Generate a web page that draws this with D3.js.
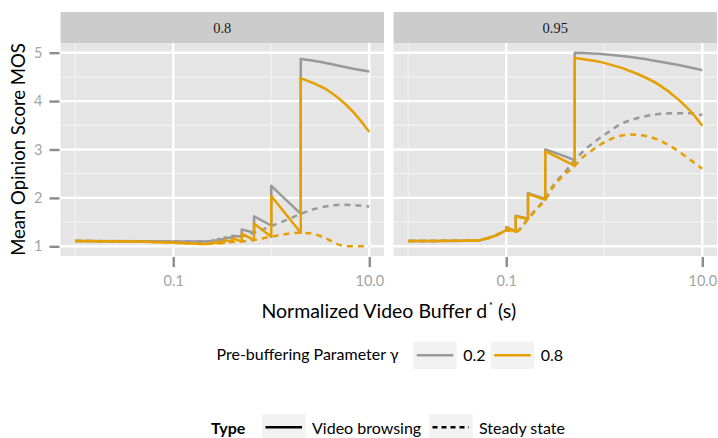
<!DOCTYPE html>
<html>
<head>
<meta charset="utf-8">
<script src="https://cdn.jsdelivr.net/npm/d3@7"></script>
<style>
  body { margin: 0; background: #ffffff; }
  text { font-family: Lato, "Noto Sans", sans-serif; white-space: pre; }
</style>
</head>
<body>
<svg id="chart" width="718" height="438"></svg>
<script>
// Facet labels, legend levels and axis breaks
const facets = ["0.8", "0.95"];
const gammas = ["0.2", "0.8"];
const types = ["Video browsing", "Steady state"];
const xTicks = [0.1, 10];
const xTickLabels = ["0.1", "10.0"];
const yTicks = [1, 2, 3, 4, 5];

// [d*, MOS] pairs; a repeated d* is a jump in the curve
const browse08_g02 = [[0.01,1.11],[0.05,1.105],[0.15,1.10],[0.25,1.10],[0.25,1.12],[0.286,1.12],[0.286,1.15],[0.333,1.14],[0.333,1.18],[0.4,1.17],[0.4,1.22],[0.5,1.20],[0.5,1.35],[0.667,1.28],[0.667,1.62],[1,1.43],[1,2.25],[2,1.67],[2,4.87],[3,4.82],[4.4,4.75],[6.5,4.68],[10,4.61]];
const browse08_g08 = [[0.01,1.11],[0.05,1.095],[0.12,1.07],[0.2,1.05],[0.25,1.055],[0.25,1.08],[0.286,1.07],[0.286,1.10],[0.333,1.08],[0.333,1.13],[0.4,1.09],[0.4,1.17],[0.5,1.10],[0.5,1.26],[0.667,1.13],[0.667,1.47],[1,1.20],[1,2.04],[2,1.28],[2,4.47],[2.77,4.36],[3.79,4.22],[5.62,3.95],[8.3,3.58],[10,3.36]];
const steady08_g02 = [[0.01,1.11],[0.1,1.10],[0.2,1.10],[0.25,1.11],[0.333,1.15],[0.4,1.18],[0.5,1.21],[0.667,1.28],[1,1.42],[1.5,1.56],[2,1.67],[3,1.79],[4,1.84],[5.4,1.86],[7,1.85],[10,1.82]];
const steady08_g08 = [[0.01,1.11],[0.05,1.095],[0.12,1.07],[0.2,1.05],[0.25,1.055],[0.333,1.07],[0.4,1.09],[0.5,1.10],[0.667,1.13],[1,1.20],[1.5,1.26],[2,1.28],[2.5,1.27],[3,1.23],[3.5,1.18],[4,1.12],[5,1.03],[5.8,1.0],[10,1.0]];

const browse095_g02 = [[0.01,1.11],[0.02,1.11],[0.04,1.115],[0.05,1.12],[0.06,1.15],[0.07,1.19],[0.08,1.23],[0.0909,1.29],[0.1,1.33],[0.1,1.40],[0.125,1.31],[0.125,1.63],[0.1667,1.57],[0.1667,2.10],[0.25,1.98],[0.25,3.00],[0.35,2.90],[0.5,2.78],[0.5,5.00],[1,4.97],[2.19,4.89],[4.87,4.77],[10,4.64]];
const browse095_g08 = [[0.01,1.11],[0.02,1.11],[0.04,1.115],[0.05,1.12],[0.06,1.15],[0.07,1.19],[0.08,1.23],[0.0909,1.29],[0.1,1.33],[0.1,1.39],[0.125,1.30],[0.125,1.62],[0.1667,1.56],[0.1667,2.08],[0.25,1.96],[0.25,2.96],[0.35,2.82],[0.5,2.66],[0.5,4.89],[1,4.79],[2.19,4.56],[3.53,4.35],[5.72,4.03],[7.89,3.75],[10,3.49]];
const steady095_g02 = [[0.01,1.11],[0.05,1.12],[0.07,1.19],[0.0909,1.29],[0.1,1.33],[0.125,1.31],[0.1667,1.57],[0.2,1.76],[0.25,1.98],[0.3,2.25],[0.407,2.56],[0.5,2.78],[0.6,2.95],[1,3.30],[1.46,3.52],[2.19,3.65],[3.26,3.72],[4.87,3.75],[7.3,3.75],[10,3.71]];
const steady095_g08 = [[0.01,1.11],[0.05,1.12],[0.07,1.19],[0.0909,1.29],[0.1,1.33],[0.125,1.30],[0.1667,1.56],[0.2,1.75],[0.25,1.96],[0.3,2.22],[0.376,2.45],[0.5,2.66],[0.556,2.77],[0.76,2.99],[1.12,3.20],[1.87,3.31],[2.66,3.28],[3.94,3.16],[5.83,2.95],[7.96,2.75],[10,2.60]];

const series = [
  { facet: "0.8",  gamma: "0.2", type: "Video browsing", pts: browse08_g02 },
  { facet: "0.8",  gamma: "0.2", type: "Steady state",   pts: steady08_g02 },
  { facet: "0.8",  gamma: "0.8", type: "Video browsing", pts: browse08_g08 },
  { facet: "0.8",  gamma: "0.8", type: "Steady state",   pts: steady08_g08 },
  { facet: "0.95", gamma: "0.2", type: "Video browsing", pts: browse095_g02 },
  { facet: "0.95", gamma: "0.2", type: "Steady state",   pts: steady095_g02 },
  { facet: "0.95", gamma: "0.8", type: "Video browsing", pts: browse095_g08 },
  { facet: "0.95", gamma: "0.8", type: "Steady state",   pts: steady095_g08 }
];

const colour = d3.scaleOrdinal().domain(gammas).range(["#999999", "#E69F00"]);
const dash = d3.scaleOrdinal().domain(types).range(["none", "6,5"]);

const svg = d3.select("#chart");

// Panel geometry
const panelTop = 43, panelBottom = 256, stripTop = 12;
const panelW = 323.5;
const panelX = [60.5, 393.5];

// log x with 5% expansion, linear y with 5% expansion
const lx0 = Math.log10(0.01), lx1 = Math.log10(10), px = (lx1 - lx0) * 0.05;
const y = d3.scaleLinear().domain([0.8, 5.2]).range([panelBottom, panelTop]);
const yMinor = [1.5, 2.5, 3.5, 4.5];
const xMinor = [0.01, 1];

function segmentedPath(pts, x) {
  const segs = [];
  let cur = [pts[0]];
  for (let i = 1; i < pts.length; i++) {
    if (pts[i][0] === pts[i - 1][0]) { segs.push(cur); cur = [pts[i]]; }
    else cur.push(pts[i]);
  }
  segs.push(cur);
  const gen = d3.line().x(p => x(p[0])).y(p => y(p[1])).curve(d3.curveMonotoneX);
  return segs.map((s, i) => { const d = gen(s); return i ? "L" + d.slice(1) : d; }).join("");
}

facets.forEach((f, fi) => {
  const x0 = panelX[fi];
  const x = d3.scaleLog()
    .domain([Math.pow(10, lx0 - px), Math.pow(10, lx1 + px)])
    .range([x0, x0 + panelW]);

  const g = svg.append("g");

  // strip
  g.append("rect").attr("x", x0).attr("y", stripTop).attr("width", panelW)
    .attr("height", panelTop - stripTop).attr("fill", "#cccccc");
  g.append("text").attr("x", x0 + panelW / 2).attr("y", 33)
    .attr("text-anchor", "middle").style("font-family", "'Liberation Serif', serif")
    .style("font-size", "14.5px").attr("fill", "#1a1a1a").text(f);

  // panel background
  g.append("rect").attr("x", x0).attr("y", panelTop).attr("width", panelW)
    .attr("height", panelBottom - panelTop).attr("fill", "#e5e5e5");

  // grid
  g.selectAll(".ymin").data(yMinor).join("line")
    .attr("x1", x0).attr("x2", x0 + panelW).attr("y1", d => y(d)).attr("y2", d => y(d))
    .attr("stroke", "#f2f2f2").attr("stroke-width", 1.2);
  g.selectAll(".xmin").data(xMinor).join("line")
    .attr("x1", d => x(d)).attr("x2", d => x(d)).attr("y1", panelTop).attr("y2", panelBottom)
    .attr("stroke", "#f2f2f2").attr("stroke-width", 1.2);
  g.selectAll(".ymaj").data(yTicks).join("line")
    .attr("x1", x0).attr("x2", x0 + panelW).attr("y1", d => y(d)).attr("y2", d => y(d))
    .attr("stroke", "#ffffff").attr("stroke-width", 2.4);
  g.selectAll(".xmaj").data(xTicks).join("line")
    .attr("x1", d => x(d)).attr("x2", d => x(d)).attr("y1", panelTop).attr("y2", panelBottom)
    .attr("stroke", "#ffffff").attr("stroke-width", 2.4);

  // x axis
  const xAxis = d3.axisBottom(x).tickValues(xTicks)
    .tickFormat((d, i) => xTickLabels[i]).tickSizeOuter(0).tickSizeInner(10).tickPadding(9);
  const ax = g.append("g").attr("transform", `translate(0,${panelBottom + 1})`).call(xAxis);
  ax.select(".domain").remove();
  ax.selectAll(".tick line").attr("stroke", "#8c8c8c").attr("stroke-width", 2.4);
  ax.selectAll(".tick text").attr("fill", "#a3a3a3")
    .style("font-family", "Lato, sans-serif").style("font-size", "14.5px");

  // y axis (left panel only)
  if (fi === 0) {
    const yAxis = d3.axisLeft(y).tickValues(yTicks).tickFormat(d3.format("d"))
      .tickSizeOuter(0).tickSizeInner(10).tickPadding(7);
    const ay = g.append("g").attr("transform", `translate(${x0 - 1},0)`).call(yAxis);
    ay.select(".domain").remove();
    ay.selectAll(".tick line").attr("stroke", "#8c8c8c").attr("stroke-width", 2.4);
    ay.selectAll(".tick text").attr("fill", "#a3a3a3")
      .style("font-family", "Lato, sans-serif").style("font-size", "14.5px");
  }

  // data
  const clipId = "clip" + fi;
  svg.append("clipPath").attr("id", clipId).append("rect")
    .attr("x", x0).attr("y", panelTop).attr("width", panelW).attr("height", panelBottom - panelTop);
  const lines = g.append("g").attr("clip-path", `url(#${clipId})`);
  series.filter(s => s.facet === f).forEach(s => {
    lines.append("path")
      .attr("d", segmentedPath(s.pts, x))
      .attr("fill", "none")
      .attr("stroke", colour(s.gamma))
      .attr("stroke-width", 2.5)
      .attr("stroke-dasharray", dash(s.type))
      .attr("stroke-linejoin", "round");
  });
});

// axis titles
svg.append("text")
  .attr("transform", `translate(25,${(panelTop + panelBottom) / 2}) rotate(-90)`)
  .attr("text-anchor", "middle").style("font-size", "18.5px").attr("fill", "#000")
  .text("Mean Opinion Score MOS");

const xt = svg.append("text").attr("x", (panelX[0] + panelX[1] + panelW) / 2).attr("y", 318)
  .attr("text-anchor", "middle").style("font-size", "19.5px").attr("fill", "#000");
xt.append("tspan").text("Normalized Video Buffer d");
xt.append("tspan").attr("dx", 1.5).attr("dy", -9).style("font-size", "10px").text("*");
xt.append("tspan").attr("dx", 5).attr("dy", 9).text("(s)");

// colour legend
const lg1 = svg.append("g");
lg1.append("text").attr("x", 216.5).attr("y", 360).style("font-size", "16px").attr("fill", "#000")
  .text("Pre-buffering Parameter \u03b3");
const keyX1 = [413.3, 490.7];
gammas.forEach((gm, i) => {
  lg1.append("rect").attr("x", keyX1[i]).attr("y", 341.7).attr("width", 43.4).attr("height", 27.3)
    .attr("fill", "#f2f2f2");
  lg1.append("line").attr("x1", keyX1[i] + 3.5).attr("x2", keyX1[i] + 40)
    .attr("y1", 355.3).attr("y2", 355.3)
    .attr("stroke", colour(gm)).attr("stroke-width", 2.5);
  lg1.append("text").attr("x", keyX1[i] + 50).attr("y", 360.5).style("font-size", "16px")
    .attr("fill", "#000").text(gm);
});

// linetype legend
const lg2 = svg.append("g");
lg2.append("text").attr("x", 211).attr("y", 434).style("font-size", "16px").style("font-weight", "bold")
  .attr("fill", "#000").text("Type");
const keyX2 = [262, 429];
types.forEach((t, i) => {
  lg2.append("rect").attr("x", keyX2[i]).attr("y", 414.3).attr("width", 43.7).attr("height", 27.3)
    .attr("fill", "#f2f2f2");
  lg2.append("line").attr("x1", keyX2[i] + 3.5).attr("x2", keyX2[i] + 40)
    .attr("y1", 427.3).attr("y2", 427.3)
    .attr("stroke", "#000").attr("stroke-width", 2.5)
    .attr("stroke-dasharray", t === "Steady state" ? "5,4" : "none");
  lg2.append("text").attr("x", keyX2[i] + 50).attr("y", 434).style("font-size", "16px")
    .attr("fill", "#000").text(t);
});
</script>
</body>
</html>
